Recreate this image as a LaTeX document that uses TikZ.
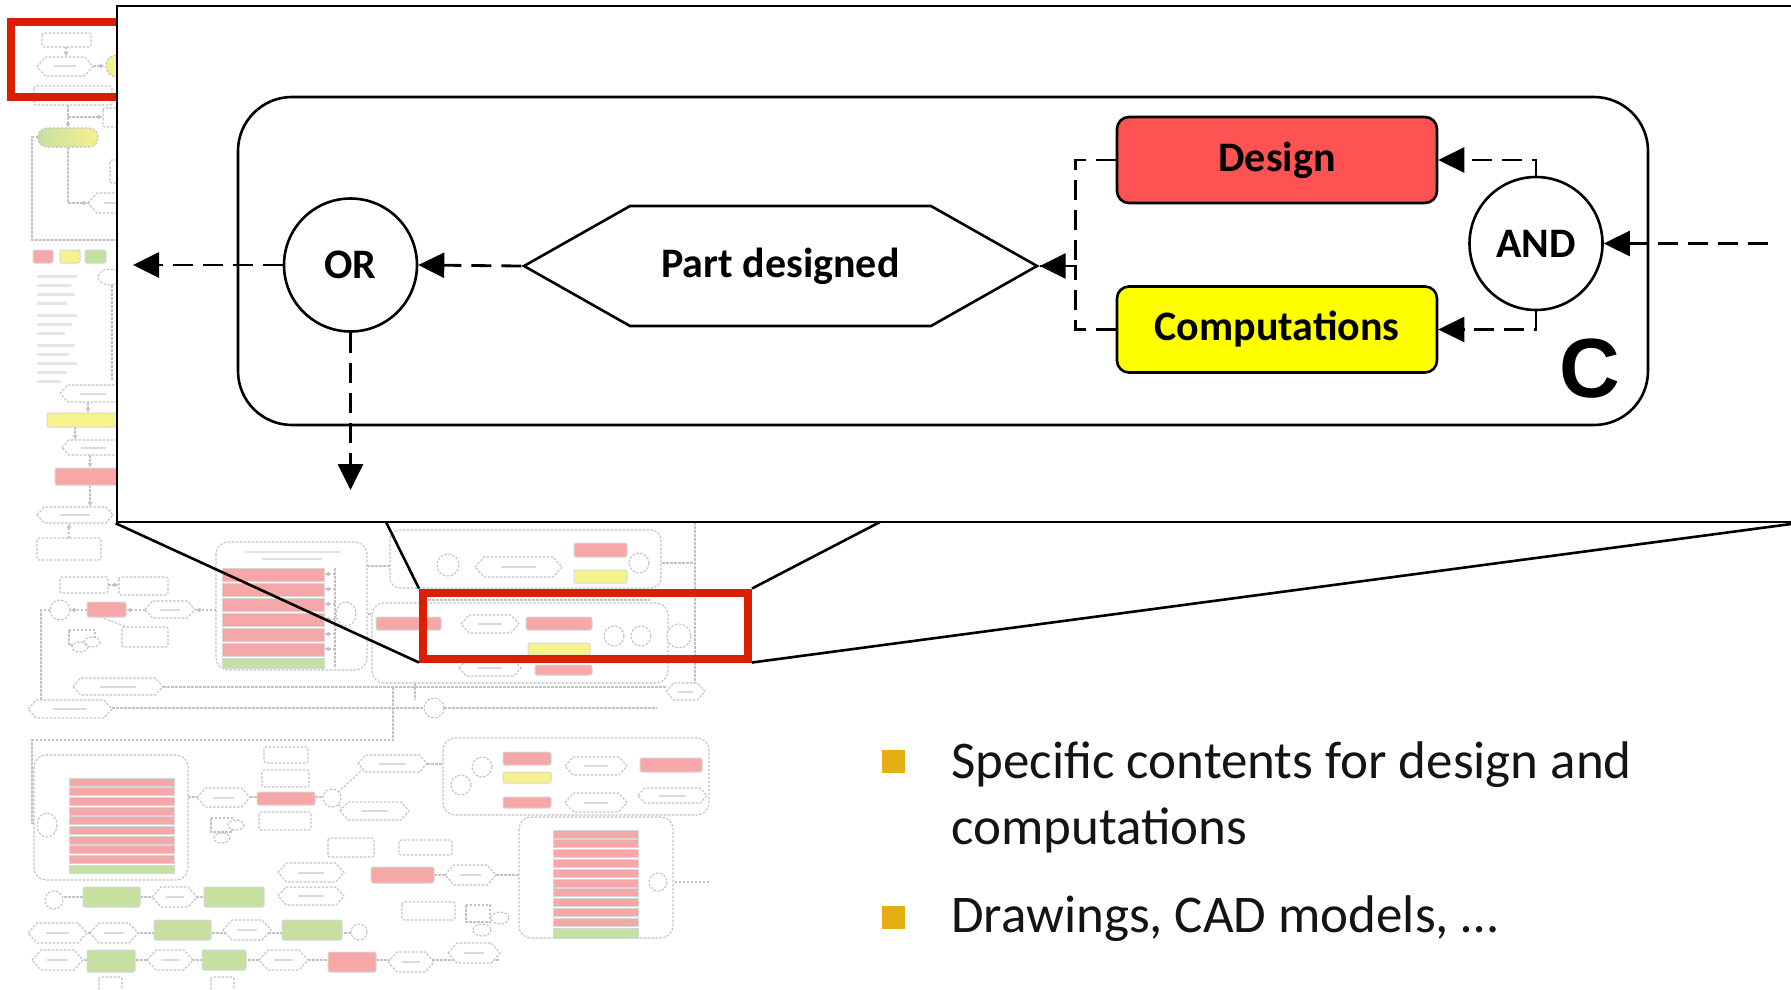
\documentclass[tikz,border=0pt]{standalone}
\usepackage{fontspec}
\setmainfont{Carlito}
\newfontfamily\arialfont{Liberation Sans}
\usetikzlibrary{arrows.meta, shapes.symbols}

\definecolor{taskred}{RGB}{255,82,82}
\definecolor{taskyellow}{RGB}{255,255,0}
\definecolor{markred}{RGB}{218,32,0}
\definecolor{bulletgold}{RGB}{228,174,20}
\definecolor{bodytext}{RGB}{20,20,20}
\definecolor{paleR}{RGB}{246,168,168}
\definecolor{paleY}{RGB}{246,242,140}
\definecolor{paleG}{RGB}{198,224,162}

\newcommand{\diagfont}{\fontsize{42}{48}\selectfont\bfseries}
\newcommand{\bodyfont}{\fontsize{53}{60}\selectfont}

% faded hexagon of the overview: x1 y1 x2 y2
\newcommand{\bghex}[4]{%
  \draw[bgl, fill=white] (#1,{(#2+#4)/2}) -- ({#1+0.45*(#4-#2)},#2) -- ({#3-0.45*(#4-#2)},#2)
    -- (#3,{(#2+#4)/2}) -- ({#3-0.45*(#4-#2)},#4) -- ({#1+0.45*(#4-#2)},#4) -- cycle;
  \draw[black!14, line width=2pt] ({#1+0.3*(#3-#1)},{(#2+#4)/2}) -- ({#3-0.3*(#3-#1)},{(#2+#4)/2});}

\tikzset{
  gate/.style={
    circle,
    draw,
    line width=2.6pt,
    fill=white,
    minimum size=133pt,
    inner sep=0pt,
    font=\diagfont,
  },
  task/.style={
    rectangle,
    rounded corners=12pt,
    draw,
    line width=2.6pt,
    minimum width=320pt,
    minimum height=86pt,
    font=\diagfont,
  },
  event/.style={
    signal,
    signal to=west and east,
    signal pointer angle=59,
    draw,
    line width=2.6pt,
    fill=white,
    minimum width=513pt,
    minimum height=120pt,
    inner sep=0pt,
    font=\diagfont,
  },
  flow/.style={line width=2.8pt, dash pattern=on 20pt off 10pt, -{Triangle[length=26pt,width=25pt]}},
  plainflow/.style={line width=2.8pt, dash pattern=on 20pt off 10pt},
  zoomline/.style={line width=2.6pt},
  markbox/.style={draw=markred, line width=8pt},
  bulletbox/.style={fill=bulletgold, minimum size=23pt, inner sep=0pt},
  bullettext/.style={anchor=base west, font=\bodyfont, text=bodytext, inner sep=0pt},
  bgl/.style={draw=black!24, line width=1.1pt, dash pattern=on 2.5pt off 1.5pt},
  bga/.style={bgl, -{Latex[length=5pt,width=5pt]}},
  bgbox/.style={bgl, fill=white, rounded corners=2pt},
  bgr/.style={draw=black!16, line width=1pt, fill=paleR, rounded corners=2pt},
  bgy/.style={draw=black!16, line width=1pt, fill=paleY, rounded corners=2pt},
  bgg/.style={draw=black!16, line width=1pt, fill=paleG, rounded corners=2pt},
}

\begin{document}
\begin{tikzpicture}[x=1pt, y=-1pt]
  \useasboundingbox (0,0) rectangle (1791,990);
  \clip (0,0) rectangle (1791,990);
  \fill[white] (0,0) rectangle (1791,990);

  % ---- faded overview, left column
  \draw[bga] (66,47) -- (66,57);
  \draw[bga] (93,66) -- (105,66);
  \draw[bga] (68,105) -- (68,128);
  \draw[bga] (68,117) -- (103,117);
  \draw[bgl] (38,137) -- (32,137) -- (32,240) -- (117,240);
  \draw[bga] (68,147) -- (68,203) -- (88,203);
  \draw[bgl] (112,285) -- (112,380);
  \draw[bga] (88,402) -- (88,413);
  \draw[bga] (75,427) -- (75,440);
  \draw[bga] (90,455) -- (90,468);
  \draw[bga] (90,485) -- (90,507);
  \draw[bga] (69,538) -- (69,523);

  \draw[bgbox] (42,33) rectangle (91,47);
  \bghex{37}{57}{93}{76}
  \draw[bgl, fill=paleY] (117,66) circle (11);
  \draw[bgbox] (34,86) rectangle (112,105);
  \draw[bgbox] (103,108) rectangle (125,127);
  \draw[bgl, rounded corners=9pt, left color=paleG, right color=paleY] (38,128) rectangle (98,147);
  \bghex{88}{193}{140}{213}
  \draw[bgbox] (110,160) rectangle (125,183);
  \draw[bgr] (33,250) rectangle (53,263);
  \draw[bgy] (60,250) rectangle (80,263);
  \draw[bgg] (85,250) rectangle (106,263);
  \foreach \yy/\ll in {276/40, 285/34, 294/38, 303/30, 315/40, 324/35, 333/28, 345/38, 354/32, 363/40, 372/30, 381/24}
    \draw[black!10, line width=3pt] (37,\yy) -- ++(\ll,0);
  \draw[bgl, fill=white] (110,277) ellipse (12 and 8);
  \bghex{60}{385}{125}{402}
  \draw[bgy] (47,413) rectangle (125,427);
  \bghex{62}{440}{125}{455}
  \draw[bgr] (55,468) rectangle (125,485);
  \bghex{37}{507}{113}{523}
  \draw[bgbox] (37,538) rectangle (101,560);

  % ---- faded overview, middle band
  \draw[bgl] (50,610) -- (41,610) -- (41,700);
  \draw[bga] (87,610) -- (70,610);
  \draw[bga] (145,610) -- (126,610);
  \draw[bga] (216,610) -- (195,610);
  \draw[bga] (108,585) -- (119,585);
  \draw[bgl] (100,617) -- (135,630);
  \draw[bgl] (356,614) -- (372,614);
  \draw[bgl] (367,566) -- (437,566);
  \draw[bgl] (459,566) -- (475,566);
  \draw[bgl] (562,566) -- (568,566) (568,550) -- (568,577);
  \draw[bgl] (650,563) -- (695,563);
  \draw[bgl] (695,522) -- (695,690);
  \draw[bgl] (420,600) -- (650,600);
  \draw[bgl] (163,687) -- (666,687);

  \draw[bgbox, rounded corners=12pt] (216,542) rectangle (367,670);
  \draw[black!12, line width=2pt] (245,552) -- (340,552) (262,559) -- (322,559);
  \draw[bgl] (335,568) -- (335,668);
  \foreach \i in {0,...,5} {
    \draw[bgr, rounded corners=0pt] (222,{568+15*\i}) rectangle (324,{581+15*\i});
    \draw[bga] (335,{574+15*\i}) -- (324,{574+15*\i});
  }
  \draw[bgg, rounded corners=0pt] (222,658) rectangle (324,668);
  \draw[bgl, fill=white] (346,614) ellipse (10 and 12);
  \draw[bgl, fill=white] (60,610) circle (10);
  \draw[bgr] (87,602) rectangle (126,617);
  \bghex{145}{601}{195}{618}
  \draw[bgbox] (60,577) rectangle (108,593);
  \draw[bgbox] (119,577) rectangle (168,595);
  \draw[bgbox] (122,627) rectangle (168,647);
  \draw[bgl, fill=white] (69,630) rectangle (95,645);
  \draw[bgl, fill=white] (92,642) ellipse (8 and 5) (80,647) ellipse (8 and 5);
  \bghex{73}{678}{163}{695}

  \draw[bgbox, rounded corners=10pt] (390,530) rectangle (661,588);
  \draw[bgl, fill=white] (448,565) circle (11);
  \bghex{475}{557}{562}{577}
  \draw[bgr] (574,543) rectangle (627,557);
  \draw[bgy] (574,570) rectangle (627,583);
  \draw[bgl, fill=white] (639,563) circle (10);

  \draw[bgbox, rounded corners=12pt] (372,603) rectangle (668,683);
  \draw[bgr] (376,617) rectangle (441,630);
  \bghex{461}{615}{519}{633}
  \draw[bgr] (526,617) rectangle (592,630);
  \draw[bgy] (528,643) rectangle (590,655);
  \draw[bgl, fill=white] (614,636) circle (10);
  \draw[bgl, fill=white] (641,636) circle (10);
  \draw[bgl, fill=white] (679,636) circle (12);
  \draw[bgr] (535,665) rectangle (592,675);
  \bghex{459}{660}{521}{676}
  \bghex{666}{683}{705}{700}

  % ---- faded overview, lower part
  \draw[bgl] (112,708) -- (657,708);
  \draw[bgl] (393,687) -- (393,740) -- (32,740) -- (32,823) -- (37,823);
  \draw[bgl] (415,683) -- (415,700);
  \draw[bgl] (188,797) -- (197,797) (250,797) -- (257,797) (315,797) -- (324,797);
  \draw[bgl] (338,792) -- (362,770) (338,805) -- (345,810);
  \draw[bgl] (427,764) -- (443,764);
  \draw[bgl] (709,882) -- (667,882);
  \draw[bgl] (434,875) -- (445,875) (496,875) -- (519,875);
  \draw[bgl] (64,897) -- (264,897);
  \draw[bgl] (28,933) -- (367,933);
  \draw[bgl] (32,960) -- (500,960);

  \bghex{28}{700}{112}{718}
  \draw[bgl, fill=white] (434,708) circle (10);

  \draw[bgbox, rounded corners=12pt] (34,755) rectangle (188,880);
  \foreach \i in {0,...,8}
    \draw[bgr, rounded corners=0pt] (69,{778+9.7*\i}) rectangle (174,{786+9.7*\i});
  \draw[bgg, rounded corners=0pt] (69,865) rectangle (174,873);
  \draw[bgl, fill=white] (47,825) ellipse (10 and 12);

  \bghex{197}{788}{250}{807}
  \draw[bgr] (257,792) rectangle (315,805);
  \draw[bgbox] (264,747) rectangle (308,763);
  \draw[bgbox] (262,770) rectangle (309,787);
  \draw[bgbox] (259,812) rectangle (311,830);
  \draw[bgl, fill=white] (211,818) rectangle (232,832);
  \draw[bgl, fill=white] (236,825) ellipse (8 and 5) (222,838) ellipse (8 and 5);
  \draw[bgl, fill=white] (332,798) circle (9);
  \bghex{358}{755}{427}{772}
  \bghex{340}{802}{409}{820}

  \draw[bgbox, rounded corners=12pt] (443,738) rectangle (709,815);
  \draw[bgl, fill=white] (461,785) circle (10);
  \draw[bgl, fill=white] (482,767) circle (10);
  \draw[bgr] (503,752) rectangle (551,765);
  \draw[bgy] (503,772) rectangle (551,783);
  \draw[bgr] (503,797) rectangle (551,808);
  \bghex{565}{757}{627}{775}
  \bghex{565}{793}{627}{812}
  \draw[bgr] (640,758) rectangle (702,772);
  \bghex{638}{788}{707}{803}

  \draw[bgbox, rounded corners=12pt] (519,817) rectangle (673,938);
  \foreach \i in {0,...,9}
    \draw[bgr, rounded corners=0pt] (553,{830+9.8*\i}) rectangle (638,{838+9.8*\i});
  \draw[bgg, rounded corners=0pt] (553,928) rectangle (638,938);
  \draw[bgl, fill=white] (658,882) circle (9);

  \draw[bgbox] (328,838) rectangle (374,857);
  \draw[bgbox] (399,840) rectangle (452,855);
  \draw[bgr] (371,867) rectangle (434,883);
  \bghex{445}{865}{496}{885}
  \bghex{278}{863}{344}{882}
  \bghex{278}{887}{344}{905}
  \draw[bgbox] (402,902) rectangle (455,920);
  \draw[bgl, fill=white] (466,905) rectangle (490,922);
  \draw[bgl, fill=white] (500,918) ellipse (9 and 6) (482,930) ellipse (9 and 6);

  \draw[bgl, fill=white] (54,900) circle (9);
  \draw[bgg] (83,887) rectangle (140,907);
  \bghex{152}{887}{197}{907}
  \draw[bgg] (204,887) rectangle (264,907);
  \bghex{28}{923}{87}{943}
  \bghex{90}{923}{138}{943}
  \draw[bgg] (154,920) rectangle (211,940);
  \bghex{223}{920}{271}{940}
  \draw[bgg] (282,920) rectangle (342,940);
  \draw[bgl, fill=white] (359,932) circle (8);
  \bghex{32}{950}{83}{970}
  \draw[bgg] (87,950) rectangle (135,972);
  \bghex{147}{950}{193}{970}
  \draw[bgg] (202,950) rectangle (246,970);
  \bghex{259}{950}{308}{970}
  \draw[bgr] (328,952) rectangle (376,972);
  \bghex{388}{952}{434}{972}
  \bghex{448}{943}{500}{963}
  \draw[bgbox] (99,977) rectangle (122,995);
  \draw[bgbox] (211,977) rectangle (234,995);

  % ---- red marks on the overview
  \node[markbox, minimum width=139pt, minimum height=75pt] (tred) at (80.5,59.5) {};
  \node[markbox, minimum width=325pt, minimum height=66pt] (zred) at (585.5,625.5) {};

  % ---- magnified view
  \node[draw, fill=white, line width=2.6pt, minimum width=1678pt, minimum height=516pt] (lens) at (956,264) {};
  \coordinate (lensA) at (386,522);
  \coordinate (lensB) at (880,522);
  \draw[zoomline] (lens.south west) -- (zred.south west);
  \draw[zoomline] (lensA) -- (zred.north west);
  \draw[zoomline] (lensB) -- (zred.north east);
  \draw[zoomline] (lens.south east) -- (zred.south east);

  \node[draw, line width=2.6pt, rounded corners=54pt, minimum width=1410pt, minimum height=328pt] (groupC) at (943,261) {};

  \node[gate] (or)  at (350.5,265) {OR};
  \node[event] (part) at (780.5,266) {Part designed};
  \node[task, fill=taskred]    (design) at (1277,160) {Design};
  \node[task, fill=taskyellow] (comp)   at (1277,329.5) {Computations};
  \node[gate] (and) at (1536,243.5) {AND};
  \node[font=\arialfont\bfseries\fontsize{84}{90}\selectfont, inner sep=0pt] (labC) at (1590,369) {C};

  \coordinate (inR)   at (1768,243.5);
  \coordinate (outL)  at (133,265);
  \coordinate (outD)  at (350.5,490);

  \draw[flow] (inR) -- (and);
  \draw[flow] (and.north) |- (design.east);
  \draw[flow] (and.south) |- (comp.east);
  \draw[plainflow] (comp.west) -- ++(-40,0) |- (part.east);
  \draw[flow] (design.west) -- ++(-40,0) |- (part.east);
  \draw[flow] (part.west) -- (or.east);
  \draw[flow] (or.west) -- (outL);
  \draw[flow] (or.south) -- (outD);

  % ---- bullets
  \node[bulletbox] (sq1) at (893.5,761.5) {};
  \node[bulletbox] (sq2) at (893.5,917.5) {};
  \node[bullettext] (txt1) at (951,778) {Specific contents for design and};
  \node[bullettext] (txt2) at (951,844) {computations};
  \node[bullettext] (txt3) at (951,932) {Drawings, CAD models, \dots};
\end{tikzpicture}
\end{document}
